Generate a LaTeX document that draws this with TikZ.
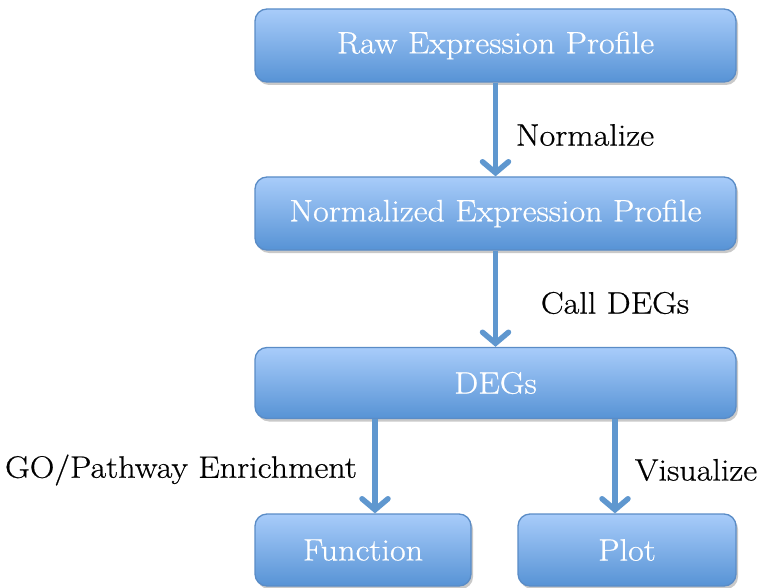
\documentclass[tikz,border=0pt]{standalone}
\usepackage{fontspec}
\setmainfont{Latin Modern Roman}[FakeStretch=1.1, FakeBold=0.6]
\usetikzlibrary{arrows.meta,shadows,calc}
\definecolor{boxtop}{HTML}{A8CCFA}
\definecolor{boxbot}{HTML}{5793D5}
\definecolor{boxedge}{HTML}{5A8CC6}
\definecolor{arrowblue}{HTML}{5F97CF}
\tikzset{
  stepbox/.style={draw=boxedge, line width=1.3pt, rounded corners=12pt,
    top color=boxtop, bottom color=boxbot, text=white,
    font=\fontsize{31}{34}\selectfont, inner sep=0pt,
    drop shadow={shadow xshift=2pt, shadow yshift=-3pt, opacity=0.3, fill=black!70}},
  flow/.style={draw=arrowblue, line width=5.5pt,
    -{Straight Barb[length=11pt, width=26pt, line width=5.5pt, line cap=round]}},
  steplabel/.style={font=\fontsize{31}{34}\selectfont, text=black, inner sep=0pt}
}
\begin{document}
\begin{tikzpicture}[x=1pt,y=1pt]
  \useasboundingbox (0,0) rectangle (760,-588);
  % pipeline boxes
  \node[stepbox, minimum width=481pt, minimum height=73pt] (raw) at (495.5,-45.5) {Raw Expression Profile};
  \node[stepbox, minimum width=481pt, minimum height=73pt] (norm) at (495.5,-213.5) {Normalized Expression Profile};
  \node[stepbox, minimum width=481pt, minimum height=71pt] (deg) at (495.5,-383) {DEGs};
  \node[stepbox, minimum width=216pt, minimum height=72pt] (fun) at (363,-550) {Function};
  \node[stepbox, minimum width=218pt, minimum height=72pt] (plot) at (627,-550) {Plot};
  % branch positions for the lower arrows
  \coordinate (fa) at (375,-450);
  \coordinate (pa) at (615,-450);
  % connectors
  \draw[flow] (raw.south) -- (norm.north);
  \draw[flow] (norm.south) -- (deg.north);
  \draw[flow] (deg.south -| fa) -- (fun.north -| fa);
  \draw[flow] (deg.south -| pa) -- (plot.north -| pa);
  % step labels
  \node[steplabel] (l1) at (585,-135) {Normalize};
  \node[steplabel] (l2) at (615,-303) {Call DEGs};
  \node[steplabel] (l3) at (181,-470) {GO/Pathway Enrichment};
  \node[steplabel] (l4) at (696,-470) {Visualize};
\end{tikzpicture}
\end{document}
